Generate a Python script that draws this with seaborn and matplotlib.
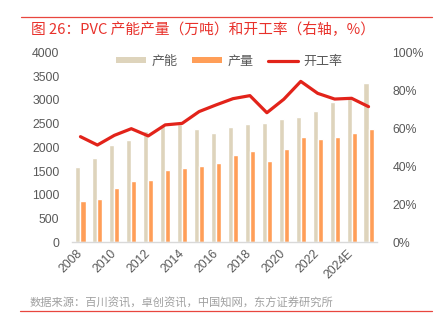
import numpy as np
import pandas as pd
import matplotlib
matplotlib.use("Agg")
import matplotlib.pyplot as plt
from matplotlib.patches import Patch
from matplotlib.lines import Line2D
import seaborn as sns

# PVC capacity, output (10k tonnes) and operating rate (%)
years = ["2008", "2009", "2010", "2011", "2012", "2013", "2014", "2015", "2016",
         "2017", "2018", "2019", "2020", "2021", "2022", "2023", "2024E", "2025E"]
capacity = [1580, 1780, 2040, 2160, 2340, 2460, 2500, 2390, 2300,
            2430, 2500, 2510, 2600, 2630, 2770, 2950, 3070, 3350]
output = [880, 910, 1150, 1290, 1320, 1530, 1570, 1610, 1660,
          1830, 1920, 1710, 1970, 2220, 2170, 2220, 2300, 2390]
op_rate = [55.6, 51.2, 56.3, 59.8, 56.0, 61.8, 62.6, 68.8, 72.3,
           75.6, 77.2, 68.2, 75.3, 84.7, 78.4, 75.4, 75.8, 71.4]

series_names = ["产能", "产量", "开工率"]
left_ticks = [0, 500, 1000, 1500, 2000, 2500, 3000, 3500, 4000]
right_ticks = [0, 20, 40, 60, 80, 100]

title = "图 26：PVC 产能产量（万吨）和开工率（右轴，%）"
source = "数据来源：百川资讯，卓创资讯，中国知网，东方证券研究所"

beige = "#DED4BC"
orange = "#FF9E58"
red = "#E2231A"
tick_color = "#595959"

sns.set_theme(style="white")
plt.rcParams["font.family"] = ["Liberation Sans", "Noto Sans CJK SC", "DejaVu Sans"]
cjk = ["Noto Sans CJK SC", "DejaVu Sans"]

df = pd.DataFrame({
    "year": years * 2,
    "value": capacity + output,
    "series": [series_names[0]] * len(years) + [series_names[1]] * len(years),
})

fig = plt.figure(figsize=(4.35, 3.29), dpi=100)
ax = fig.add_axes([0.1655, 0.2635, 0.8667 - 0.1655, 0.841 - 0.2635])

sns.barplot(data=df, x="year", y="value", hue="series", order=years,
            hue_order=series_names[:2], palette=[beige, orange],
            width=0.6, saturation=1, legend=False, ax=ax)

ax.set_ylim(0, 4000)
ax.set_xlim(-0.5, len(years) - 0.5)
ax.set_yticks(left_ticks)
ax.set_yticklabels([str(t) for t in left_ticks])
ax.set_xticks(range(0, len(years) - 1, 2))
ax.set_xticklabels(years[:-1:2], rotation=45, ha="right", va="center",
                   rotation_mode="anchor")
ax.set_xlabel("")
ax.set_ylabel("")
ax.tick_params(axis="both", length=0, labelsize=8.8, colors=tick_color)
ax.tick_params(axis="x", pad=7)
ax.tick_params(axis="y", pad=9)
for side in ["top", "right", "left"]:
    ax.spines[side].set_visible(False)
ax.spines["bottom"].set_color("#D9D9D9")
ax.spines["bottom"].set_linewidth(1.0)

ax2 = ax.twinx()
sns.lineplot(x=np.arange(len(years)), y=op_rate, color=red, linewidth=2.3,
             ax=ax2, legend=False)
ax2.set_ylim(0, 100)
ax2.set_yticks(right_ticks)
ax2.set_yticklabels([f"{t}%" for t in right_ticks])
ax2.tick_params(axis="y", length=0, labelsize=8.8, colors=tick_color, pad=11)
for side in ["top", "right", "left", "bottom"]:
    ax2.spines[side].set_visible(False)

handles = [Patch(facecolor=beige, edgecolor="none"),
           Patch(facecolor=orange, edgecolor="none"),
           Line2D([0], [0], color=red, linewidth=2.3)]
leg = ax2.legend(handles, series_names, loc="center",
                 bbox_to_anchor=(0.515, 0.953), ncol=3, frameon=False,
                 prop={"family": cjk, "size": 9.4},
                 handlelength=2.3, handleheight=0.4,
                 handletextpad=0.38, columnspacing=1.15)
for t in leg.get_texts():
    t.set_color(tick_color)

# header and footer rules with caption text
fig.add_artist(Line2D([21 / 435, 432 / 435], [1 - 17.3 / 329] * 2,
                      color="#E8463E", linewidth=0.9))
fig.text(31 / 435, 1 - 29.5 / 329, title, color="#E8312B", fontsize=10.6,
         family=cjk, weight="medium", ha="left", va="center")
fig.text(30 / 435, 1 - 303 / 329, source, color="#A0A0A0", fontsize=8.1,
         family=cjk, ha="left", va="center")
fig.add_artist(Line2D([20 / 435, 432 / 435], [1 - 311 / 329] * 2,
                      color="#E8463E", linewidth=0.9))

fig.savefig("out.png", dpi=100)
